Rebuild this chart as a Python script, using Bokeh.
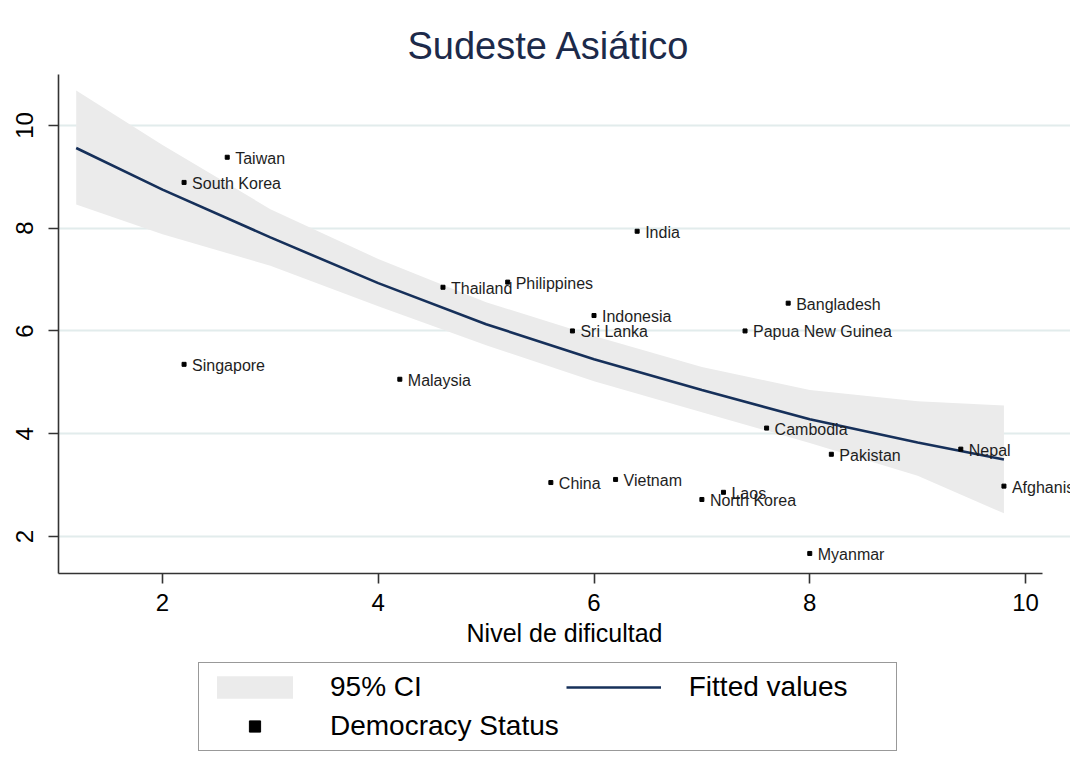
from bokeh.plotting import figure
from bokeh.models import (ColumnDataSource, LabelSet, Range1d, FixedTicker,
                          Legend, LegendItem)
from bokeh.layouts import column
from bokeh.core.properties import value
from bokeh.embed import file_html
from bokeh.resources import INLINE

# ---- data ----
countries = ["Taiwan", "South Korea", "India", "Thailand", "Philippines",
             "Indonesia", "Sri Lanka", "Bangladesh", "Papua New Guinea",
             "Singapore", "Malaysia", "Cambodia", "Pakistan", "Nepal",
             "Afghanistan", "China", "Vietnam", "Laos", "North Korea", "Myanmar"]
dificultad = [2.6, 2.2, 6.4, 4.6, 5.2, 6.0, 5.8, 7.8, 7.4, 2.2, 4.2, 7.6,
              8.2, 9.4, 9.8, 5.6, 6.2, 7.2, 7.0, 8.0]
democracia = [9.38, 8.89, 7.94, 6.85, 6.95, 6.30, 6.00, 6.54, 6.00, 5.35,
              5.06, 4.11, 3.60, 3.70, 2.98, 3.05, 3.11, 2.86, 2.72, 1.67]

fit_x = [1.2, 2.0, 3.0, 4.0, 5.0, 6.0, 7.0, 8.0, 9.0, 9.8]
fit_y = [9.56, 8.75, 7.82, 6.93, 6.13, 5.45, 4.85, 4.28, 3.83, 3.50]
ci_upper = [10.68, 9.62, 8.37, 7.40, 6.56, 5.90, 5.30, 4.85, 4.63, 4.55]
ci_lower = [8.46, 7.88, 7.27, 6.48, 5.72, 5.02, 4.42, 3.82, 3.18, 2.45]

x_ticks = [2, 4, 6, 8, 10]
y_ticks = [2, 4, 6, 8, 10]

title_text = "Sudeste Asiático"
x_label = "Nivel de dificultad"

FONT = "Liberation Sans"
X_MIN, X_AXIS_MAX, X_VIEW_MAX = 1.036, 10.157, 10.417

p = figure(width=1070, height=650, output_backend="svg", toolbar_location=None,
           x_range=Range1d(X_MIN, X_VIEW_MAX), y_range=Range1d(1.28, 10.99),
           min_border_left=58, min_border_right=0, min_border_top=74,
           min_border_bottom=77, background_fill_color="white",
           border_fill_color="white", outline_line_color=None)

p.title.text = title_text
p.title.text_font = FONT
p.title.text_font_size = "38px"
p.title.text_font_style = "normal"
p.title.text_color = "#1c2a4a"
p.title.align = "left"
p.title.offset = 349
p.title.standoff = 16

# CI band and fitted line
ci_src = ColumnDataSource(dict(x=fit_x, lo=ci_lower, hi=ci_upper, y=fit_y))
band = p.varea(x="x", y1="lo", y2="hi", source=ci_src, fill_color="#ebebeb",
               fill_alpha=1.0)
fit = p.line(x="x", y="y", source=ci_src, line_color="#16305a", line_width=2.6)

pts = ColumnDataSource(dict(x=dificultad, y=democracia, name=countries))
sc = p.scatter(x="x", y="y", source=pts, marker="square", size=4,
               fill_color="black", line_color="black")

labels = LabelSet(x="x", y="y", text="name", source=pts, x_offset=8,
                  y_offset=-1, text_baseline="middle", text_align="left",
                  text_font=value(FONT), text_font_size=value("16px"),
                  text_color="#1e1e1e")
p.add_layout(labels)

# axes
for ax in (p.xaxis, p.yaxis):
    ax.axis_line_color = "#333333"
    ax.axis_line_width = 1.6
    ax.major_tick_line_color = "#333333"
    ax.major_tick_line_width = 1.6
    ax.major_tick_out = 10
    ax.major_tick_in = 0
    ax.minor_tick_line_color = None
    ax.major_label_text_font = FONT
    ax.major_label_text_font_size = "24px"
    ax.major_label_text_color = "black"

p.xaxis.bounds = (X_MIN, X_AXIS_MAX)
p.xaxis.ticker = FixedTicker(ticks=x_ticks)
p.yaxis.ticker = FixedTicker(ticks=y_ticks)
p.xaxis.major_label_standoff = 10
p.yaxis.major_label_standoff = 15
p.yaxis.major_label_orientation = "vertical"
p.xaxis.axis_label = x_label
p.xaxis.axis_label_text_font = FONT
p.xaxis.axis_label_text_font_size = "25px"
p.xaxis.axis_label_text_font_style = "normal"
p.xaxis.axis_label_text_color = "black"
p.xaxis.axis_label_standoff = 5

p.xgrid.grid_line_color = None
p.ygrid.grid_line_color = "#e2ecec"
p.ygrid.grid_line_width = 2

# ---- legend panel (same sources, outside its view so only the keys show) ----
q = figure(width=1070, height=120, output_backend="svg", toolbar_location=None,
           x_range=Range1d(-2, -1), y_range=Range1d(-2, -1),
           x_axis_type=None, y_axis_type=None,
           min_border_left=0, min_border_right=0, min_border_top=0,
           min_border_bottom=0, outline_line_color=None,
           background_fill_color="white", border_fill_color="white")
q.xgrid.visible = False
q.ygrid.visible = False
lband = q.varea(x="x", y1="lo", y2="hi", source=ci_src, fill_color="#ebebeb")
lfit = q.line(x="x", y="y", source=ci_src, line_color="#16305a", line_width=2.6)
lsc = q.scatter(x="x", y="y", source=pts, marker="square", size=4,
                fill_color="black", line_color="black")

legend = Legend(items=[LegendItem(label="95% CI", renderers=[lband]),
                       LegendItem(label="Fitted values", renderers=[lfit]),
                       LegendItem(label="Democracy Status", renderers=[lsc])],
                orientation="horizontal", ncols=2, location=(140, 19),
                glyph_width=95, glyph_height=28, label_standoff=28,
                label_width=199, spacing=7, padding=8, margin=0,
                label_text_font=FONT, label_text_font_size="28px",
                label_text_color="black",
                border_line_color="#333333", border_line_width=1.2,
                background_fill_color="white")
q.add_layout(legend, "center")

layout = column(p, q, spacing=0)
open("out.html", "w").write(file_html(layout, INLINE))
